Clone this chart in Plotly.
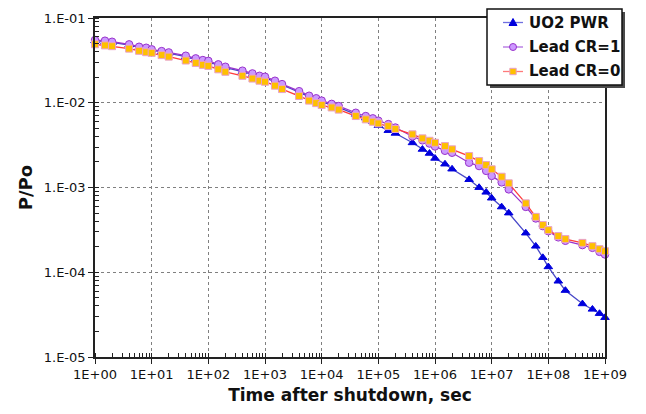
import plotly.graph_objects as go

# Time after shutdown, seconds
time_s = [
    1, 1.5, 2, 4, 6, 8,
    1e1, 1.5e1, 2e1, 4e1, 6e1, 8e1,
    1e2, 1.5e2, 2e2, 4e2, 6e2, 8e2,
    1e3, 1.5e3, 2e3, 4e3, 6e3, 8e3,
    1e4, 1.5e4, 2e4, 4e4, 6e4, 8e4,
    1e5, 1.5e5, 2e5, 4e5, 6e5, 8e5,
    1e6, 1.5e6, 2e6, 4e6, 6e6, 8e6,
    1e7, 1.5e7, 2e7, 4e7, 6e7, 8e7,
    1e8, 1.5e8, 2e8, 4e8, 6e8, 8e8,
    1e9,
]

# Decay power fraction P/Po
uo2_pwr = [
    5.40e-2, 5.28e-2, 5.15e-2, 4.80e-2, 4.50e-2, 4.37e-2,
    4.18e-2, 3.98e-2, 3.84e-2, 3.50e-2, 3.26e-2, 3.11e-2,
    3.04e-2, 2.77e-2, 2.60e-2, 2.33e-2, 2.16e-2, 2.03e-2,
    1.97e-2, 1.77e-2, 1.62e-2, 1.33e-2, 1.18e-2, 1.10e-2,
    1.03e-2, 9.40e-3, 8.80e-3, 7.30e-3, 6.60e-3, 6.00e-3,
    5.40e-3, 4.70e-3, 4.36e-3, 3.37e-3, 2.82e-3, 2.53e-3,
    2.21e-3, 1.89e-3, 1.65e-3, 1.24e-3, 1.00e-3, 8.80e-4,
    7.50e-4, 5.90e-4, 5.00e-4, 2.90e-4, 2.03e-4, 1.49e-4,
    1.16e-4, 7.85e-5, 6.10e-5, 4.24e-5, 3.66e-5, 3.26e-5,
    2.92e-5,
]

lead_cr1 = [
    5.50e-2, 5.40e-2, 5.25e-2, 4.89e-2, 4.58e-2, 4.46e-2,
    4.27e-2, 4.07e-2, 3.93e-2, 3.59e-2, 3.34e-2, 3.19e-2,
    3.12e-2, 2.84e-2, 2.66e-2, 2.39e-2, 2.22e-2, 2.08e-2,
    2.03e-2, 1.82e-2, 1.66e-2, 1.37e-2, 1.21e-2, 1.13e-2,
    1.06e-2, 9.70e-3, 9.14e-3, 7.62e-3, 6.97e-3, 6.55e-3,
    6.14e-3, 5.60e-3, 5.10e-3, 4.00e-3, 3.60e-3, 3.30e-3,
    3.05e-3, 2.71e-3, 2.57e-3, 1.96e-3, 1.79e-3, 1.57e-3,
    1.37e-3, 1.15e-3, 9.50e-4, 5.90e-4, 4.31e-4, 3.50e-4,
    3.05e-4, 2.58e-4, 2.35e-4, 2.09e-4, 1.94e-4, 1.74e-4,
    1.62e-4,
]

lead_cr0 = [
    4.90e-2, 4.75e-2, 4.65e-2, 4.35e-2, 4.10e-2, 3.95e-2,
    3.88e-2, 3.65e-2, 3.50e-2, 3.15e-2, 2.95e-2, 2.80e-2,
    2.72e-2, 2.48e-2, 2.32e-2, 2.08e-2, 1.93e-2, 1.82e-2,
    1.77e-2, 1.59e-2, 1.45e-2, 1.20e-2, 1.06e-2, 9.90e-3,
    9.40e-3, 8.80e-3, 8.30e-3, 6.97e-3, 6.37e-3, 5.97e-3,
    5.71e-3, 5.30e-3, 4.90e-3, 4.24e-3, 3.80e-3, 3.56e-3,
    3.37e-3, 3.08e-3, 2.82e-3, 2.35e-3, 2.05e-3, 1.84e-3,
    1.64e-3, 1.34e-3, 1.12e-3, 6.50e-4, 4.50e-4, 3.60e-4,
    3.14e-4, 2.67e-4, 2.46e-4, 2.22e-4, 2.03e-4, 1.87e-4,
    1.77e-4,
]

series_names = ["UO2 PWR", "Lead CR=1", "Lead CR=0"]

x_tickvals = [10 ** k for k in range(0, 10)]
x_ticktext = ["1E+%02d" % k for k in range(0, 10)]
y_tickvals = [10 ** -k for k in range(5, 0, -1)]
y_ticktext = ["1.E-%02d" % k for k in range(5, 0, -1)]

FONT = "DejaVu Sans, Verdana, sans-serif"
W, H = 646, 414
ML, MR, MT, MB = 95, 41, 18, 57
PW, PH = W - ML - MR, H - MT - MB

# Per-series styling: line colour, marker symbol, fill, outline, size,
# legend line colour
styles = [
    dict(line="#4848c8", symbol="triangle-up", fill="#0000dd",
         edge="#0000dd", size=7.5, key_line="#7070e0"),
    dict(line="#9933cc", symbol="circle", fill="#cc99ff",
         edge="#9933cc", size=7.5, key_line="#b070e0"),
    dict(line="#ff3b3b", symbol="square", fill="#ffc000",
         edge="#e8a0c8", size=7, key_line="#ff7a7a"),
]

fig = go.Figure()
for name, ys, st in zip(series_names, [uo2_pwr, lead_cr1, lead_cr0], styles):
    fig.add_trace(go.Scatter(
        x=time_s, y=ys, name=name, mode="lines+markers",
        line=dict(color=st["line"], width=1.3),
        marker=dict(symbol=st["symbol"], size=st["size"], color=st["fill"],
                    line=dict(color=st["edge"], width=1)),
        cliponaxis=False, showlegend=False,
    ))

axis_common = dict(
    type="log",
    showline=True, linecolor="#222222", linewidth=1.6, mirror=True,
    ticks="outside", ticklen=5, tickcolor="#222222", tickwidth=1,
    showgrid=True, gridcolor="#808080", griddash="dot", gridwidth=1,
    tickfont=dict(family=FONT, size=13, color="#111111"),
    zeroline=False,
    minor=dict(ticks="inside", ticklen=4, tickcolor="#222222", dtick="D1",
               showgrid=False),
)

fig.update_xaxes(
    **axis_common,
    range=[0, 9],
    tickvals=x_tickvals, ticktext=x_ticktext,
    title=dict(text="<b>Time after shutdown, sec</b>",
               font=dict(family=FONT, size=17, color="#111111"),
               standoff=8),
)
fig.update_yaxes(
    **axis_common,
    range=[-5, -1],
    tickvals=y_tickvals, ticktext=y_ticktext,
    title=dict(text="<b>P/Po</b>",
               font=dict(family=FONT, size=18, color="#111111"),
               standoff=6),
)


def px_x(px):
    return (px - ML) / PW


def px_y(py):
    return (H - MB - py) / PH


# Legend key box with a drop shadow, overlapping the top-right corner
box_l, box_r, box_t, box_b = 487, 622, 9, 85
shapes = [
    dict(type="rect", xref="paper", yref="paper", layer="above",
         x0=px_x(box_l + 3), x1=px_x(box_r + 3),
         y0=px_y(box_b + 3), y1=px_y(box_t + 3),
         fillcolor="#4a4a4a", line=dict(width=0)),
    dict(type="rect", xref="paper", yref="paper", layer="above",
         x0=px_x(box_l), x1=px_x(box_r), y0=px_y(box_b), y1=px_y(box_t),
         fillcolor="white", line=dict(color="#111111", width=1.5)),
]
annotations = []
row_y = [22.5, 47, 71.5]
for name, st, ry in zip(series_names, styles, row_y):
    shapes.append(dict(type="line", xref="paper", yref="paper", layer="above",
                       x0=px_x(503), x1=px_x(523), y0=px_y(ry), y1=px_y(ry),
                       line=dict(color=st["key_line"], width=1.3)))
    cx, cy = px_x(513), px_y(ry)
    base = dict(xref="paper", yref="paper", layer="above",
                xsizemode="pixel", ysizemode="pixel",
                xanchor=cx, yanchor=cy, fillcolor=st["fill"],
                line=dict(color=st["edge"], width=1))
    if st["symbol"] == "circle":
        shapes.append(dict(type="circle", x0=-3.5, x1=3.5, y0=-3.5, y1=3.5,
                           **base))
    elif st["symbol"] == "square":
        shapes.append(dict(type="rect", x0=-3.2, x1=3.2, y0=-3.2, y1=3.2,
                           **base))
    else:
        shapes.append(dict(type="path", path="M -4 -3 L 4 -3 L 0 4 Z",
                           **base))
    annotations.append(dict(
        xref="paper", yref="paper", x=px_x(527), y=px_y(ry),
        xanchor="left", yanchor="middle", showarrow=False,
        text="<b>%s</b>" % name,
        font=dict(family=FONT, size=15, color="#111111"),
    ))

fig.update_layout(
    width=W, height=H,
    margin=dict(l=ML, r=MR, t=MT, b=MB),
    paper_bgcolor="white", plot_bgcolor="white",
    showlegend=False,
    shapes=shapes, annotations=annotations,
)

fig.write_html("out.html")
